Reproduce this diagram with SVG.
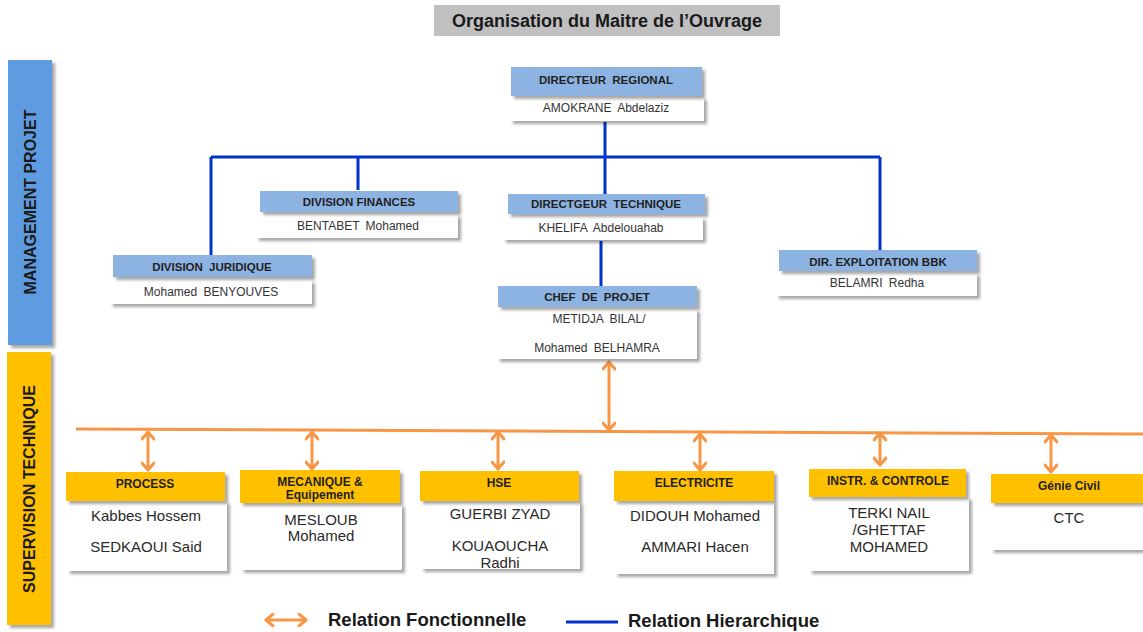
<svg xmlns="http://www.w3.org/2000/svg" width="1143" height="632" viewBox="0 0 1143 632">
<defs>
<filter id="sh" x="-10%" y="-20%" width="130%" height="160%">
<feDropShadow dx="3" dy="3" stdDeviation="1.5" flood-color="#000" flood-opacity="0.35"/>
</filter>
<marker id="ah" viewBox="0 0 14 14" refX="12" refY="7" markerWidth="14" markerHeight="14" orient="auto-start-reverse" markerUnits="userSpaceOnUse">
<path d="M5,1 L12,7 L5,13" fill="none" stroke="#f79646" stroke-width="3" stroke-linecap="round" stroke-linejoin="round"/>
</marker>
</defs>
<style>
text{font-family:"Liberation Sans",Arial,sans-serif;text-anchor:middle}
.hb{fill:#8db3e2}
.ho{fill:#ffc000}
.bd{fill:#fff}
.ht{font-size:11.5px;font-weight:bold;fill:#1f1f1f;word-spacing:3px}
.bt{font-size:12px;fill:#333;word-spacing:3px}
.ot{font-size:12px;font-weight:bold;fill:#1f1f1f}
.bt2{font-size:15px;fill:#2a2a2a}
.blue{stroke:#0033cc;stroke-width:3;fill:none}
.or{stroke:#f79646;stroke-width:3;fill:none}
.oa{stroke:#f79646;stroke-width:3;fill:none;marker-start:url(#ah);marker-end:url(#ah)}
.band{font-size:16px;font-weight:bold;fill:#1a1a1a}
.lg{font-size:18.5px;font-weight:bold;fill:#1a1a1a;text-anchor:start}
</style>
<rect width="1143" height="632" fill="#fff"/>

<g id="title">
<rect x="434" y="5" width="346" height="31" fill="#c0c0c0"/>
<text x="607" y="27" style="font-size:18px;font-weight:bold;fill:#1a1a1a">Organisation du Maitre de l’Ouvrage</text>
</g>

<g id="band-management">
<rect x="8" y="60" width="44" height="285" fill="#5e9be0" filter="url(#sh)"/>
<text transform="translate(36,202) rotate(-90)" class="band">MANAGEMENT PROJET</text>
</g>
<g id="band-supervision">
<rect x="7" y="352" width="44" height="273" fill="#ffc000" filter="url(#sh)"/>
<text transform="translate(35,489) rotate(-90)" class="band">SUPERVISION TECHNIQUE</text>
</g>

<g id="connectors">
<path class="blue" d="M211,157 H880 M211,157 V255 M358,157 V190 M880,157 V251 M605,122 V194 M601,241 V286"/>
<path class="or" d="M76,429 L1143,434"/>
<path class="oa" d="M609,362 V430"/>
<path class="oa" d="M148,432 V470"/>
<path class="oa" d="M312,432 V469"/>
<path class="oa" d="M498,432 V469"/>
<path class="oa" d="M700,434 V470"/>
<path class="oa" d="M880,433 V465"/>
<path class="oa" d="M1051,435 V472"/>
</g>

<g id="directeur-regional">
<rect class="bd" x="510" y="97" width="194" height="24" filter="url(#sh)"/>
<rect class="hb" x="511" y="67" width="191" height="29" filter="url(#sh)"/>
<text class="ht" x="606" y="84">DIRECTEUR REGIONAL</text>
<text class="bt" x="606" y="112">AMOKRANE Abdelaziz</text>
</g>

<g id="division-finances">
<rect class="bd" x="256" y="214" width="202" height="24" filter="url(#sh)"/>
<rect class="hb" x="260" y="191" width="198" height="21" filter="url(#sh)"/>
<text class="ht" x="359" y="206" style="word-spacing:0">DIVISION FINANCES</text>
<text class="bt" x="358" y="230">BENTABET Mohamed</text>
</g>

<g id="directeur-technique">
<rect class="bd" x="503" y="217" width="200" height="23" filter="url(#sh)"/>
<rect class="hb" x="508" y="194" width="197" height="20" filter="url(#sh)"/>
<text class="ht" x="606" y="208">DIRECTGEUR TECHNIQUE</text>
<text class="bt" x="601" y="232">KHELIFA Abdelouahab</text>
</g>

<g id="division-juridique">
<rect class="bd" x="110" y="280" width="202" height="24" filter="url(#sh)"/>
<rect class="hb" x="113" y="255" width="199" height="22" filter="url(#sh)"/>
<text class="ht" x="212" y="271">DIVISION JURIDIQUE</text>
<text class="bt" x="211" y="296">Mohamed BENYOUVES</text>
</g>

<g id="dir-exploitation">
<rect class="bd" x="776" y="273" width="201" height="23" filter="url(#sh)"/>
<rect class="hb" x="779" y="250" width="198" height="21" filter="url(#sh)"/>
<text class="ht" x="878" y="266" style="word-spacing:0">DIR. EXPLOITATION BBK</text>
<text class="bt" x="877" y="287">BELAMRI Redha</text>
</g>

<g id="chef-de-projet">
<rect class="bd" x="497" y="309" width="200" height="50" filter="url(#sh)"/>
<rect class="hb" x="498" y="286" width="199" height="21" filter="url(#sh)"/>
<text class="ht" x="597" y="301">CHEF DE PROJET</text>
<text class="bt" x="599" y="323">METIDJA BILAL/</text>
<text class="bt" x="597" y="352">Mohamed BELHAMRA</text>
</g>

<g id="process">
<rect class="bd" x="67" y="501" width="160" height="70" filter="url(#sh)"/>
<rect class="ho" x="66" y="472" width="159" height="29" filter="url(#sh)"/>
<text class="ot" x="145" y="488">PROCESS</text>
<text class="bt2" x="146" y="521">Kabbes Hossem</text>
<text class="bt2" x="146" y="552">SEDKAOUI Said</text>
</g>

<g id="mecanique">
<rect class="bd" x="241" y="504" width="161" height="66" filter="url(#sh)"/>
<rect class="ho" x="240" y="470" width="160" height="33" filter="url(#sh)"/>
<text class="ot" x="320" y="486">MECANIQUE &amp;</text>
<text class="ot" x="320" y="499">Equipement</text>
<text class="bt2" x="321" y="525">MESLOUB</text>
<text class="bt2" x="321" y="541">Mohamed</text>
</g>

<g id="hse">
<rect class="bd" x="421" y="501" width="159" height="68" filter="url(#sh)"/>
<rect class="ho" x="420" y="471" width="159" height="30" filter="url(#sh)"/>
<text class="ot" x="499" y="487">HSE</text>
<text class="bt2" x="500" y="519">GUERBI ZYAD</text>
<text class="bt2" x="500" y="551">KOUAOUCHA</text>
<text class="bt2" x="500" y="568">Radhi</text>
</g>

<g id="electricite">
<rect class="bd" x="615" y="501" width="159" height="73" filter="url(#sh)"/>
<rect class="ho" x="614" y="471" width="160" height="30" filter="url(#sh)"/>
<text class="ot" x="694" y="487">ELECTRICITE</text>
<text class="bt2" x="695" y="521">DIDOUH Mohamed</text>
<text class="bt2" x="695" y="552">AMMARI Hacen</text>
</g>

<g id="instr-controle">
<rect class="bd" x="809" y="497" width="160" height="74" filter="url(#sh)"/>
<rect class="ho" x="809" y="469" width="157" height="28" filter="url(#sh)"/>
<text class="ot" x="888" y="485">INSTR. &amp; CONTROLE</text>
<text class="bt2" x="889" y="518">TERKI NAIL</text>
<text class="bt2" x="889" y="535">/GHETTAF</text>
<text class="bt2" x="889" y="552">MOHAMED</text>
</g>

<g id="genie-civil">
<rect class="bd" x="991" y="503" width="152" height="47" filter="url(#sh)"/>
<rect class="ho" x="991" y="474" width="152" height="29" filter="url(#sh)"/>
<text class="ot" x="1069" y="490">Génie Civil</text>
<text class="bt2" x="1069" y="523">CTC</text>
</g>

<g id="legend">
<path class="oa" d="M266,620 H306"/>
<text x="328" y="626" class="lg">Relation Fonctionnelle</text>
<path d="M566,622 H618" stroke="#0033cc" stroke-width="3"/>
<text x="628" y="627" class="lg">Relation Hierarchique</text>
</g>
</svg>
